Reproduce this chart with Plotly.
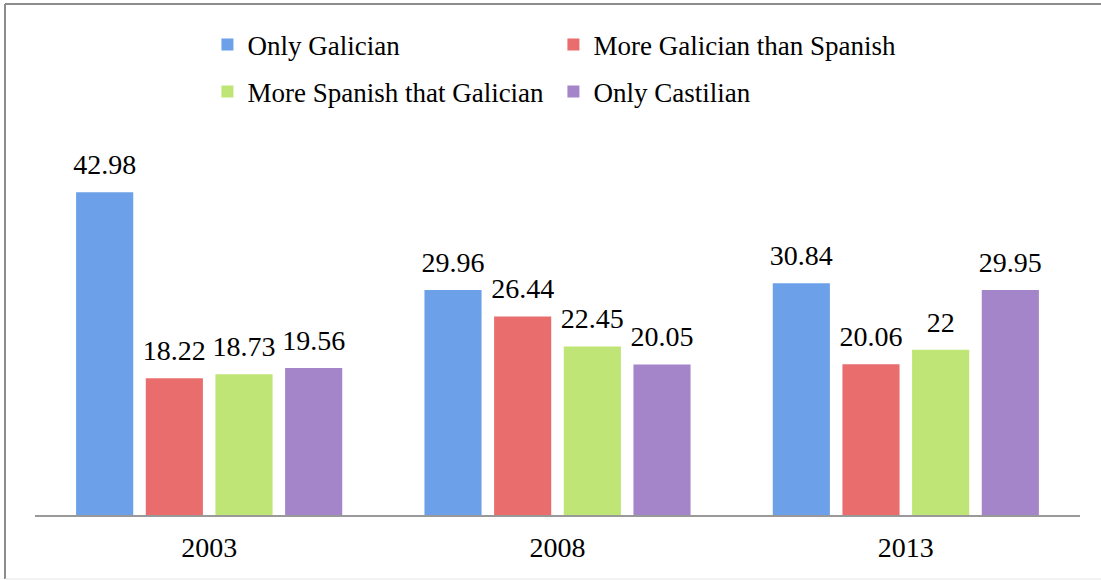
import plotly.graph_objects as go

years = ["2003", "2008", "2013"]
series_names = ["Only Galician", "More Galician than Spanish",
                "More Spanish that Galician", "Only Castilian"]
only_galician = [42.98, 29.96, 30.84]
more_galician = [18.22, 26.44, 20.06]
more_spanish = [18.73, 22.45, 22]
only_castilian = [19.56, 20.05, 29.95]
values = [only_galician, more_galician, more_spanish, only_castilian]
colors = ["#6CA0E8", "#E86D6C", "#BEE576", "#A485CA"]
legend_ids = ["legend", "legend", "legend2", "legend2"]

FONT = "'Liberation Serif', Tinos, 'Times New Roman', 'DejaVu Serif', serif"

fig = go.Figure()
for i, (name, vals, col, lg) in enumerate(zip(series_names, values, colors, legend_ids)):
    fig.add_trace(go.Bar(
        x=years, y=vals, name=name, marker_color=col,
        marker_line_width=0, offsetgroup=str(i),
        legend=lg,
    ))
for i, vals in enumerate(values):
    fig.add_trace(go.Scatter(
        x=years, y=vals, mode="markers+text", offsetgroup=str(i),
        marker=dict(size=16, opacity=0, color="white"),
        text=[f"{v:g}" for v in vals], textposition="top center",
        textfont=dict(family=FONT, size=28, color="black"),
        showlegend=False, hoverinfo="skip", cliponaxis=False,
    ))

legend_common = dict(orientation="h", font=dict(family=FONT, size=27, color="black"),
                     entrywidth=301, entrywidthmode="pixels",
                     xanchor="left", yanchor="middle", bgcolor="rgba(0,0,0,0)",
                     itemclick=False, itemdoubleclick=False)

frame = dict(xref="paper", yref="paper", type="line", layer="below")
fig.update_layout(
    width=1101, height=580,
    margin=dict(l=35, r=21, t=177, b=65),
    paper_bgcolor="white", plot_bgcolor="white",
    barmode="group", bargap=0.2, bargroupgap=0.18,
    scattermode="group", scattergap=0.2,
    font=dict(family=FONT, size=27, color="black"),
    legend=dict(x=0.165, y=1.3905, **legend_common),
    legend2=dict(x=0.165, y=1.2515, **legend_common),
    xaxis=dict(showline=True, linecolor="#999999", linewidth=2, ticks="",
               tickfont=dict(family=FONT, size=28, color="black"),
               ticklabelstandoff=6,
               showgrid=False, zeroline=False),
    yaxis=dict(range=[0, 45], visible=False, showgrid=False, zeroline=False),
    shapes=[
        dict(x0=-0.0287, x1=1.03, y0=1.5118, y1=1.5118,
             line=dict(color="#8c8c8c", width=2), **frame),
        dict(x0=-0.0287, x1=-0.0287, y0=-0.1893, y1=1.5118,
             line=dict(color="#8c8c8c", width=2), **frame),
        dict(x0=-0.0287, x1=1.03, y0=-0.1893, y1=-0.1893,
             line=dict(color="#e6e6e6", width=1), **frame),
    ],
)

fig.write_html("out.html")
